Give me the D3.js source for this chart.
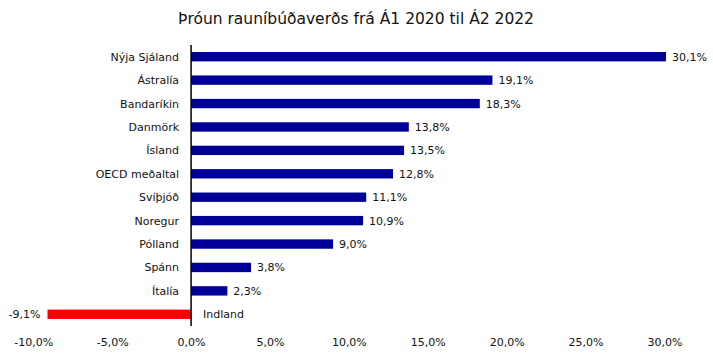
<!DOCTYPE html>
<html><head><meta charset="utf-8">
<script src="https://cdn.jsdelivr.net/npm/d3@7"></script>
<style>body{margin:0;background:#fff;}svg{display:block;}</style>
</head><body>
<svg id="c" width="713" height="357"></svg>
<script>
const categories = ["Nýja Sjáland","Ástralía","Bandaríkin","Danmörk","Ísland","OECD meðaltal","Svíþjóð","Noregur","Pólland","Spánn","Ítalía","Indland"];
const values = [30.1,19.1,18.3,13.8,13.5,12.8,11.1,10.9,9.0,3.8,2.3,-9.1];
const ticks = [-10,-5,0,5,10,15,20,25,30];
const title = "Þróun rauníbúðaverðs frá Á1 2020 til Á2 2022";

const svg = d3.select("#c");
const font = "'DejaVu Sans', sans-serif";
const fmt = v => v.toFixed(1).replace(".", ",") + "%";

const x = d3.scaleLinear().domain([-10, 30]).range([33.3, 664.4]);
const y = d3.scaleBand().domain(categories).range([45, 326]).paddingInner(0.6).paddingOuter(0.3);

svg.append("text").attr("x", 356).attr("y", 24).attr("text-anchor", "middle")
  .attr("font-family", font).attr("font-size", 15.5).attr("font-weight", 500).attr("fill", "#111").text(title);

svg.selectAll("rect.bar").data(values).join("rect")
  .attr("x", d => x(Math.min(0, d)))
  .attr("width", d => Math.abs(x(d) - x(0)))
  .attr("y", (d, i) => y(categories[i]))
  .attr("height", y.bandwidth())
  .attr("fill", d => d < 0 ? "#ff0000" : "#000099");

// category labels
svg.selectAll("text.cat").data(categories).join("text")
  .attr("x", (d, i) => values[i] < 0 ? x(0) + 12 : x(0) - 12)
  .attr("y", d => y(d) + y.bandwidth() / 2)
  .attr("dy", "0.36em")
  .attr("text-anchor", (d, i) => values[i] < 0 ? "start" : "end")
  .attr("font-family", font).attr("font-size", 11).attr("fill", "#111").text(d => d);

// value labels
svg.selectAll("text.val").data(values).join("text")
  .attr("x", d => d < 0 ? x(d) - 7 : x(d) + 6)
  .attr("y", (d, i) => y(categories[i]) + y.bandwidth() / 2)
  .attr("dy", "0.36em")
  .attr("text-anchor", d => d < 0 ? "end" : "start")
  .attr("font-family", font).attr("font-size", 11).attr("fill", "#111").text(fmt);

// zero axis line
svg.append("line").attr("x1", x(0)).attr("x2", x(0)).attr("y1", 45).attr("y2", 326)
  .attr("stroke", "#000").attr("stroke-width", 1.5);

// x axis tick labels
const ax = svg.append("g").attr("transform", "translate(0,326)")
  .call(d3.axisBottom(x).tickValues(ticks).tickFormat(fmt).tickSize(0).tickPadding(12));
ax.select(".domain").remove();
ax.selectAll("text").attr("font-family", font).attr("font-size", 11).attr("fill", "#111");
</script>
</body></html>
